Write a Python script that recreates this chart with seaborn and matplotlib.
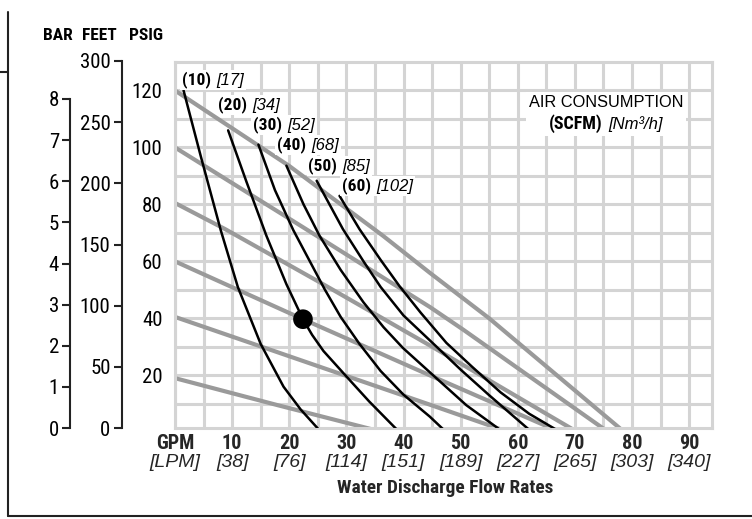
import matplotlib

matplotlib.use("Agg")
import matplotlib.pyplot as plt
import numpy as np
import pandas as pd
import seaborn as sns
from matplotlib import font_manager
from matplotlib.lines import Line2D
from matplotlib.offsetbox import AnnotationBbox, HPacker, TextArea, VPacker

# values (flow in GPM, head in PSIG)

# gray lines: discharge head at a fixed air inlet pressure
inlet_psig = [120, 100, 80, 60, 40, 20]
head_gpm = [
    [0, 20, 36.4, 44.6, 55, 78.7],
    [0, 22.4, 44.6, 50.4, 75.9],
    [0, 8.8, 25.3, 44.6, 70.5],
    [0, 22.4, 44.6, 67.5],
    [0, 44.6, 58.5],
    [0, 18, 36.5],
]
head_psi = [
    [120, 93.5, 69, 56, 40, 0],
    [100, 72, 44, 36.1, 0],
    [80.5, 71.3, 52.7, 30.5, 0],
    [60, 39.7, 20, 0],
    [40.5, 9.7, 0],
    [19, 9.5, 0],
]

# black lines: constant air consumption
air_scfm = [10, 20, 30, 40, 50, 60]
air_nm3h = [17, 34, 52, 68, 85, 102]
air_gpm = [
    [1.5, 4.5, 8, 11, 15, 19, 22, 25.6],
    [9.3, 12.5, 16, 19.5, 22.4, 24, 26, 30, 34, 39.3],
    [14.6, 17.5, 20.7, 26.2, 29, 32.3, 36, 40, 44.6, 47.5],
    [19.5, 22.5, 25.3, 29, 33, 36.5, 39.9, 46.3, 51, 57.5],
    [24.8, 29.4, 33, 36, 40, 45.7, 50, 55, 62.5],
    [28.8, 32.3, 36, 39.3, 43, 47.5, 52, 57, 62, 67.5],
]
air_psi = [
    [120, 97, 71, 51, 31, 16, 8, 0],
    [106, 88, 69, 52, 39.7, 34.2, 28.5, 19.6, 10.8, 0],
    [101, 85, 71, 50.2, 40.5, 31, 21.5, 13.2, 5.5, 0],
    [93.6, 80, 69, 57, 45.6, 36.9, 29.6, 18, 9.5, 0],
    [88.3, 71.3, 60, 51, 41, 30.2, 22, 13, 0],
    [83, 71.3, 60.5, 51.3, 42, 31.4, 23, 14, 6.5, 0],
]

# example operating point
point_gpm = [22.4]
point_psi = [39.7]

# axis scales
gpm_ticks = [0, 10, 20, 30, 40, 50, 60, 70, 80, 90]
lpm_labels = ["[LPM]", "[38]", "[76]", "[114]", "[151]", "[189]", "[227]", "[265]", "[303]", "[340]"]
psig_ticks = [20, 40, 60, 80, 100, 120]
feet_ticks = [0, 50, 100, 150, 200, 250, 300]
bar_ticks = [0, 1, 2, 3, 4, 5, 6, 7, 8]

# where each air label sits (gpm, psi)
label_pos = [(1.2, 123.7), (7.5, 114.9), (13.6, 107.9), (17.8, 100.9), (23.3, 93.5), (29.2, 86.5)]


def pick_narrow_font():
    # the chart uses a condensed face; take the closest one installed
    names = {f.name for f in font_manager.fontManager.ttflist}
    for c in ["Liberation Sans Narrow", "Roboto Condensed", "Arial Narrow",
              "Open Sans Condensed", "Noto Sans Condensed"]:
        if c in names:
            return c, "normal"
    for f in font_manager.fontManager.ttflist:
        if f.name in ("Roboto", "Noto Sans", "Open Sans") and f.stretch in ("condensed", "semi-condensed"):
            return f.name, f.stretch
    return "Liberation Sans", "normal"


def main():
    sns.set_theme(style="white")
    plt.rcParams["font.family"] = ["Liberation Sans", "DejaVu Sans"]

    narrow, stretch = pick_narrow_font()
    bold = dict(family=[narrow, "Liberation Sans"], fontweight="bold", fontstretch=stretch)
    ital = dict(family=["Liberation Sans", "DejaVu Sans"], style="italic")
    num_family = [narrow, "Liberation Sans"]
    num_size = 14 if narrow == "Liberation Sans" else 15
    ink = "#222222"
    grid_c = "#d4d4d4"
    gray = "#9a9a9a"

    W, H = 752, 519
    fig = plt.figure(figsize=(W / 100, H / 100), dpi=100)

    # size the bold face so the axis title is about as wide as in the chart
    r = fig.canvas.get_renderer()
    t = fig.text(0, 0, "Water Discharge Flow Rates", fontsize=14, **bold)
    k = 218 / t.get_window_extent(r).width
    t.remove()
    k = min(max(k, 0.92), 1.15)

    ax = fig.add_axes([175 / W, 1 - 428 / H, 537 / W, 366 / H])

    head_df = pd.DataFrame({
        "psig": np.repeat(inlet_psig, [len(g) for g in head_gpm]),
        "gpm": np.concatenate(head_gpm),
        "psi": np.concatenate(head_psi),
    })
    air_df = pd.DataFrame({
        "scfm": np.repeat(air_scfm, [len(g) for g in air_gpm]),
        "gpm": np.concatenate(air_gpm),
        "psi": np.concatenate(air_psi),
    })

    sns.lineplot(data=head_df, x="gpm", y="psi", units="psig", estimator=None,
                 sort=False, color=gray, lw=3.0, ax=ax, legend=False, zorder=2)
    sns.lineplot(data=air_df, x="gpm", y="psi", units="scfm", estimator=None,
                 sort=False, color="black", lw=1.8, ax=ax, legend=False, zorder=3)
    sns.scatterplot(x=point_gpm, y=point_psi, s=200, color="black",
                    edgecolor="none", ax=ax, zorder=5)

    ax.set_xlim(0, 94)
    ax.set_ylim(1.5, 130)
    ax.set_xticks(gpm_ticks)
    ax.set_xticks(np.arange(5, 90, 10), minor=True)
    ax.set_yticks(psig_ticks)
    ax.set_yticks(np.arange(10, 125, 20), minor=True)
    ax.grid(True, which="both", color=grid_c, lw=2.2)
    ax.set_axisbelow(True)
    for s in ax.spines.values():
        s.set_color(grid_c)
        s.set_linewidth(2.2)
    ax.tick_params(which="both", length=0)
    ax.tick_params(axis="y", pad=9, colors="black")
    ax.set_yticklabels([str(v) for v in psig_ticks], fontsize=num_size, family=num_family)
    ax.tick_params(axis="x", pad=4)
    ax.set_xticklabels(["GPM"] + [str(v) for v in gpm_ticks[1:]], fontsize=14.5 * k, **bold)
    ax.set_xlabel("")
    ax.set_ylabel("")

    # second row of the flow scale, in litres per minute
    for x, lab in zip(gpm_ticks, lpm_labels):
        ax.text(x, -0.094, lab, transform=ax.get_xaxis_transform(), ha="center",
                va="center", fontsize=14, **ital)
    ax.text(0.503, -0.165, "Water Discharge Flow Rates", transform=ax.transAxes,
            ha="center", va="center", fontsize=14 * k, **bold)

    # air consumption labels at the top of each black curve
    for (x, y), scfm, nm3 in zip(label_pos, air_scfm, air_nm3h):
        box = HPacker(children=[
            TextArea(f"({scfm})", textprops=dict(fontsize=12.5 * k, color="black", **bold)),
            TextArea(f"[{nm3}]", textprops=dict(fontsize=12, color="black", **ital)),
        ], align="baseline", pad=0, sep=4)
        ab = AnnotationBbox(box, (x, y), xycoords="data", box_alignment=(0, 0.5),
                            frameon=True, pad=0.1,
                            bboxprops=dict(facecolor="white", edgecolor="none"))
        ab.set_zorder(6)
        ax.add_artist(ab)

    legend_box = VPacker(children=[
        TextArea("AIR CONSUMPTION", textprops=dict(fontsize=11.8, color="black")),
        HPacker(children=[
            TextArea("(SCFM)", textprops=dict(fontsize=13 * k, color="black", **bold)),
            TextArea("[Nm³/h]", textprops=dict(fontsize=12, color="black", **ital)),
        ], align="baseline", pad=0, sep=4),
    ], align="center", pad=0, sep=3)
    ab = AnnotationBbox(legend_box, (0.8026, 0.858), xycoords="axes fraction",
                        box_alignment=(0.5, 0.5), frameon=True, pad=0.2,
                        bboxprops=dict(facecolor="white", edgecolor="none"))
    ab.set_zorder(6)
    ax.add_artist(ab)

    # extra pressure scales on the left
    for xpx, top_px, lim, ticks in [(70, 99, 8, bar_ticks), (121.7, 61, 300, feet_ticks)]:
        sub = fig.add_axes([xpx / W, 1 - 428 / H, 0.0001, (428 - top_px) / H])
        sub.set_ylim(0, lim)
        sub.set_yticks(ticks)
        sub.set_yticklabels([str(v) for v in ticks], fontsize=num_size, family=num_family)
        sub.set_xticks([])
        sub.patch.set_visible(False)
        for s in ["top", "right", "bottom"]:
            sub.spines[s].set_visible(False)
        sub.spines["left"].set_color(ink)
        sub.spines["left"].set_linewidth(1.5)
        sub.tick_params(axis="y", length=6, width=1.5, color=ink, pad=2,
                        labelcolor="black", left=True)
        sub.grid(False)

    for xc, word in [(57.5, "BAR"), (99, "FEET"), (146.5, "PSIG")]:
        fig.text(xc / W, 1 - 35 / H, word, ha="center", va="center",
                 fontsize=12.5 * k, color="black", **bold)

    # page frame
    fx = 8 / W
    fig.add_artist(Line2D([fx, fx], [1 - 12 / H, 1 - 516 / H], color=ink, lw=1.5))
    fig.add_artist(Line2D([fx, 1], [1 - 516 / H, 1 - 516 / H], color=ink, lw=1.5))
    fig.add_artist(Line2D([0, fx], [1 - 72 / H, 1 - 72 / H], color=ink, lw=1.5))

    fig.savefig("out.png", dpi=100)


if __name__ == "__main__":
    main()
